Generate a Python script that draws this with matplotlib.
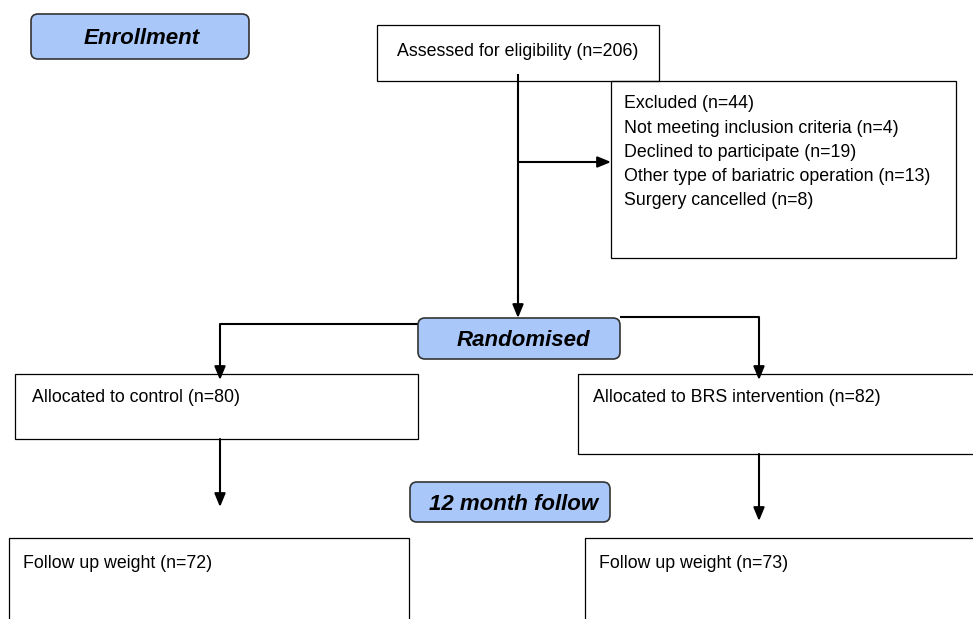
import matplotlib.pyplot as plt
from matplotlib.patches import FancyBboxPatch, Rectangle

# flow counts
stage_names = ['Enrollment', 'Randomised', '12 month follow']
assessed_n = 206
excluded_n = 44
excluded_reasons = ['Not meeting inclusion criteria', 'Declined to participate',
                    'Other type of bariatric operation', 'Surgery cancelled']
excluded_counts = [4, 19, 13, 8]
arm_names = ['control', 'BRS intervention']
allocated_n = [80, 82]
followup_n = [72, 73]

plt.rcParams['font.family'] = ['Liberation Sans', 'DejaVu Sans']

fig = plt.figure(figsize=(9.73, 6.19), dpi=100)
ax = fig.add_axes([0, 0, 1, 1])
ax.set_xlim(0, 973)
ax.set_ylim(619, 0)
ax.axis('off')

fs = 12.8
blue = '#a9c7f9'


def box(x0, y0, x1, y1):
    ax.add_patch(Rectangle((x0, y0), x1 - x0, y1 - y0, fill=False,
                           ec='black', lw=0.9, zorder=2))


def stage(x0, y0, x1, y1, txt, dx=0):
    ax.add_patch(FancyBboxPatch((x0, y0), x1 - x0, y1 - y0,
                                boxstyle='round,pad=0,rounding_size=7',
                                fc=blue, ec='#333333', lw=1.2, zorder=3))
    ax.text((x0 + x1) / 2 + dx, (y0 + y1) / 2 + 2, txt, ha='center', va='center',
            fontsize=16, fontweight='bold', style='italic', zorder=4)


def line(xs, ys):
    ax.plot(xs, ys, color='black', lw=1.5, solid_capstyle='butt', zorder=1)


def arrow(x0, y0, x1, y1):
    ax.annotate('', xy=(x1, y1), xytext=(x0, y0),
                arrowprops=dict(arrowstyle='-|>,head_length=0.8,head_width=0.33',
                                color='black', lw=1.5, shrinkA=0, shrinkB=0),
                zorder=1)


# enrollment
stage(31, 14, 249, 59, stage_names[0], dx=1.5)
box(377, 25, 659, 81)
ax.text(397, 51, f'Assessed for eligibility (n={assessed_n})', fontsize=fs, va='center')

box(611, 81, 956, 258)
lines = [f'Excluded (n={excluded_n})'] + \
        [f'{r} (n={c})' for r, c in zip(excluded_reasons, excluded_counts)]
for i, t in enumerate(lines):
    ax.text(624, 104 + i * 24.2, t, fontsize=fs, va='center')

line([518, 518], [74, 300])
arrow(518, 295, 518, 318)
arrow(518, 162, 611, 162)

# randomisation
line([220, 418], [324, 324])
arrow(220, 324, 220, 380)
line([620, 759], [317, 317])
arrow(759, 317, 759, 380)
stage(418, 318, 620, 359, stage_names[1], dx=4)

box(15, 374, 418, 439)
ax.text(32, 397, f'Allocated to {arm_names[0]} (n={allocated_n[0]})', fontsize=fs, va='center')
box(578, 374, 990, 454)
ax.text(593, 398, f'Allocated to {arm_names[1]} (n={allocated_n[1]})', fontsize=fs, va='center')

# follow up
arrow(220, 439, 220, 507)
arrow(759, 454, 759, 521)
stage(410, 482, 610, 522, stage_names[2], dx=4)

box(9, 538, 409, 640)
ax.text(23, 563, f'Follow up weight (n={followup_n[0]})', fontsize=fs, va='center')
box(585, 538, 990, 640)
ax.text(599, 563, f'Follow up weight (n={followup_n[1]})', fontsize=fs, va='center')

fig.savefig('out.png', dpi=100)
